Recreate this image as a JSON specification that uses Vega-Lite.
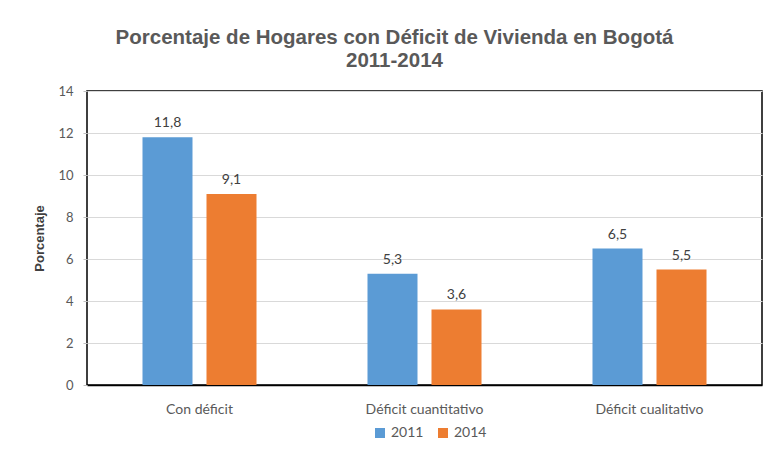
{
  "$schema": "https://vega.github.io/schema/vega-lite/v6.json",
  "width": 675,
  "height": 294,
  "autosize": {"type": "none"},
  "padding": {"left": 87, "top": 91, "right": 7, "bottom": 80},
  "background": "white",
  "title": {
    "text": ["Porcentaje de Hogares con Déficit de Vivienda en Bogotá", "2011-2014"],
    "font": "Liberation Sans",
    "fontSize": 20.5,
    "fontWeight": "bold",
    "color": "#595959",
    "anchor": "middle",
    "dx": -30,
    "offset": 14,
    "lineHeight": 23
  },
  "config": {
    "locale": {"number": {"decimal": ",", "thousands": ".", "grouping": [3], "currency": ["", " €"]}},
    "view": {"stroke": "black", "strokeWidth": 1.5},
    "font": "Lato"
  },
  "data": {
    "values": [
      {"categoria": "Con déficit", "anio": "2011", "valor": 11.8},
      {"categoria": "Con déficit", "anio": "2014", "valor": 9.1},
      {"categoria": "Déficit cuantitativo", "anio": "2011", "valor": 5.3},
      {"categoria": "Déficit cuantitativo", "anio": "2014", "valor": 3.6},
      {"categoria": "Déficit cualitativo", "anio": "2011", "valor": 6.5},
      {"categoria": "Déficit cualitativo", "anio": "2014", "valor": 5.5}
    ]
  },
  "encoding": {
    "x": {
      "field": "categoria",
      "type": "nominal",
      "sort": ["Con déficit", "Déficit cuantitativo", "Déficit cualitativo"],
      "scale": {"paddingInner": 0, "paddingOuter": 0},
      "axis": {
        "title": null,
        "labelAngle": 0,
        "labelFont": "Lato",
        "labelFontSize": 14,
        "labelColor": "#595959",
        "labelPadding": 17,
        "ticks": false,
        "domainColor": "black",
        "domainWidth": 1.5
      }
    },
    "xOffset": {
      "field": "anio",
      "type": "nominal",
      "scale": {"paddingInner": 0.21875, "paddingOuter": 0.867}
    },
    "y": {
      "field": "valor",
      "type": "quantitative",
      "scale": {"domain": [0, 14]},
      "axis": {
        "title": "Porcentaje",
        "titleFont": "Liberation Sans",
        "titleFontSize": 13,
        "titleFontWeight": "bold",
        "titleColor": "#404040",
        "titlePadding": 11,
        "values": [0, 2, 4, 6, 8, 10, 12, 14],
        "labelFont": "Lato",
        "labelFontSize": 13,
        "labelColor": "#595959",
        "labelPadding": 10,
        "tickSize": 4,
        "tickColor": "#bfbfbf",
        "domain": false,
        "grid": true,
        "gridColor": "#d9d9d9",
        "gridWidth": 1.2
      }
    }
  },
  "layer": [
    {
      "mark": {"type": "bar"},
      "encoding": {
        "color": {
          "field": "anio",
          "type": "nominal",
          "scale": {"domain": ["2011", "2014"], "range": ["#5B9BD5", "#ED7D31"]},
          "legend": {
            "title": null,
            "orient": "none",
            "legendX": 286,
            "legendY": 335,
            "direction": "horizontal",
            "symbolType": "square",
            "symbolSize": 100,
            "labelFont": "Lato",
            "labelFontSize": 14,
            "labelColor": "#595959",
            "labelOffset": 4,
            "columnPadding": 12
          }
        }
      }
    },
    {
      "mark": {"type": "text", "dy": -14, "font": "Lato", "fontSize": 14, "color": "#404040"},
      "encoding": {
        "text": {"field": "valor", "type": "quantitative", "format": ".1f"}
      }
    }
  ]
}
